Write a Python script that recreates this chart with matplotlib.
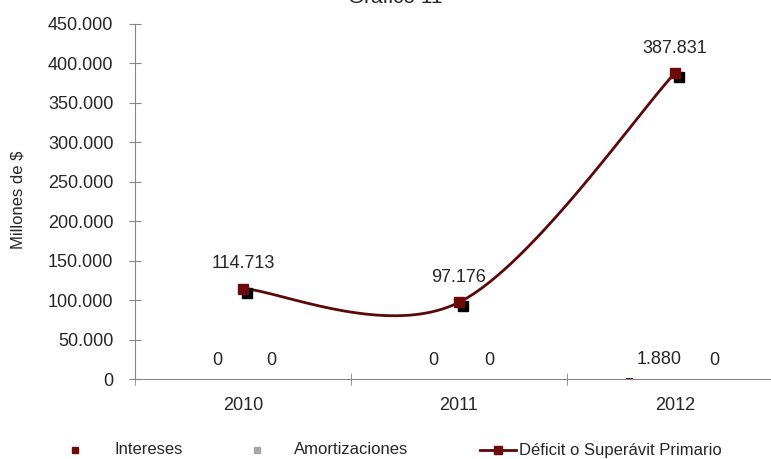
import matplotlib
matplotlib.use("Agg")
import matplotlib.pyplot as plt
import matplotlib.transforms as mtransforms
from matplotlib.lines import Line2D
import numpy as np

plt.rcParams['font.family'] = ['Liberation Sans', 'DejaVu Sans']

years = ["2010", "2011", "2012"]
intereses = [0, 0, 1880]
amortizaciones = [0, 0, 0]
deficit = [114713, 97176, 387831]

MAROON = "#6d0b0b"
LINE = "#5a0808"
GREY = "#a6a6a6"
AXIS = "#868686"
TXT = "#262626"


def fmt(v):
    return f"{v:,.0f}".replace(",", ".")


def smooth(xs, ys, n=60):
    # curva suavizada tipo Catmull-Rom (como la linea suavizada de Excel)
    xs = np.asarray(xs, float)
    ys = np.asarray(ys, float)
    k = len(xs)
    mx = np.zeros(k)
    my = np.zeros(k)
    for i in range(k):
        a = max(i - 1, 0)
        b = min(i + 1, k - 1)
        mx[i] = (xs[b] - xs[a]) * 0.5
        my[i] = (ys[b] - ys[a]) * 0.5
    px, py = [], []
    t = np.linspace(0, 1, n)
    h00 = 2 * t**3 - 3 * t**2 + 1
    h10 = t**3 - 2 * t**2 + t
    h01 = -2 * t**3 + 3 * t**2
    h11 = t**3 - t**2
    for i in range(k - 1):
        px.append(h00 * xs[i] + h10 * mx[i] + h01 * xs[i + 1] + h11 * mx[i + 1])
        py.append(h00 * ys[i] + h10 * my[i] + h01 * ys[i + 1] + h11 * my[i + 1])
    return np.concatenate(px), np.concatenate(py)


fig = plt.figure(figsize=(7.71, 4.59), dpi=100)
W, H = 771, 459
ax = fig.add_axes([135 / W, 1 - 379 / H, 648 / W, 355 / H])

x = np.arange(len(years))
off_i, off_a = -0.21, 0.19
ax.bar(x + off_i, intereses, width=0.035, color=MAROON)
ax.bar(x + off_a, amortizaciones, width=0.035, color=GREY)

# etiquetas de las barras
lab_i = [-0.12, -0.12, -0.075]
lab_a = [0.13, 0.14, 0.18]
for i in range(len(years)):
    ax.annotate(fmt(intereses[i]), (x[i] + lab_i[i], intereses[i]), xytext=(0, 7),
                textcoords="offset points", ha="center", va="bottom", fontsize=13, color=TXT)
    ax.annotate(fmt(amortizaciones[i]), (x[i] + lab_a[i], amortizaciones[i]), xytext=(0, 7),
                textcoords="offset points", ha="center", va="bottom", fontsize=13, color=TXT)

sx, sy = smooth(x, deficit)
ax.plot(sx, sy, color=LINE, lw=2, zorder=3)
shadow = mtransforms.offset_copy(ax.transData, fig=fig, x=4, y=-4, units="dots")
ax.plot(x, deficit, ls="none", marker="s", ms=7, color="black", transform=shadow, zorder=3)
ax.plot(x, deficit, ls="none", marker="s", ms=7, color=MAROON, mec=MAROON, zorder=4)
for i in range(len(years)):
    ax.annotate(fmt(deficit[i]), (x[i], deficit[i]), xytext=(0, 18),
                textcoords="offset points", ha="center", va="center", fontsize=13, color=TXT)

ax.set_xlim(-0.5, 2.5)
ax.set_ylim(0, 450000)
ax.set_yticks(np.arange(0, 450001, 50000))
ax.set_yticklabels([fmt(v) for v in np.arange(0, 450001, 50000)])
ax.set_xticks(x)
ax.set_xticklabels(years)
ax.set_xticks([-0.5, 0.5, 1.5, 2.5], minor=True)
ax.tick_params(axis="x", which="major", length=0, pad=13, labelsize=13, labelcolor=TXT)
ax.tick_params(axis="x", which="minor", direction="inout", length=9, color=AXIS)
ax.tick_params(axis="y", direction="inout", length=9, pad=11, color=AXIS, labelsize=13, labelcolor=TXT)
for s in ["top", "right"]:
    ax.spines[s].set_visible(False)
for s in ["left", "bottom"]:
    ax.spines[s].set_color(AXIS)

fig.text(18 / W, 1 - 200 / H, "Millones de $", rotation=90, ha="center", va="center",
         fontsize=12, color=TXT)
fig.text(395 / W, 1 - 3 / H, "Gráfico 11", ha="center", va="baseline", fontsize=15, color=TXT)

# leyenda inferior
ly = 1 - 450 / H
fig.add_artist(Line2D([75 / W], [ly], marker="s", ms=4, color=MAROON, ls="none"))
fig.text(115 / W, ly, "Intereses", ha="left", va="center", fontsize=12, color=TXT)
fig.add_artist(Line2D([257 / W], [ly], marker="s", ms=4, color=GREY, ls="none"))
fig.text(294 / W, ly, "Amortizaciones", ha="left", va="center", fontsize=12, color=TXT)
fig.add_artist(Line2D([480 / W, 516 / W], [ly, ly], color=LINE, lw=2))
fig.add_artist(Line2D([498 / W], [ly], marker="s", ms=6, color=MAROON, ls="none"))
fig.text(519 / W, ly, "Déficit o Superávit Primario", ha="left", va="center", fontsize=12, color=TXT)

fig.savefig("out.png", dpi=100)
